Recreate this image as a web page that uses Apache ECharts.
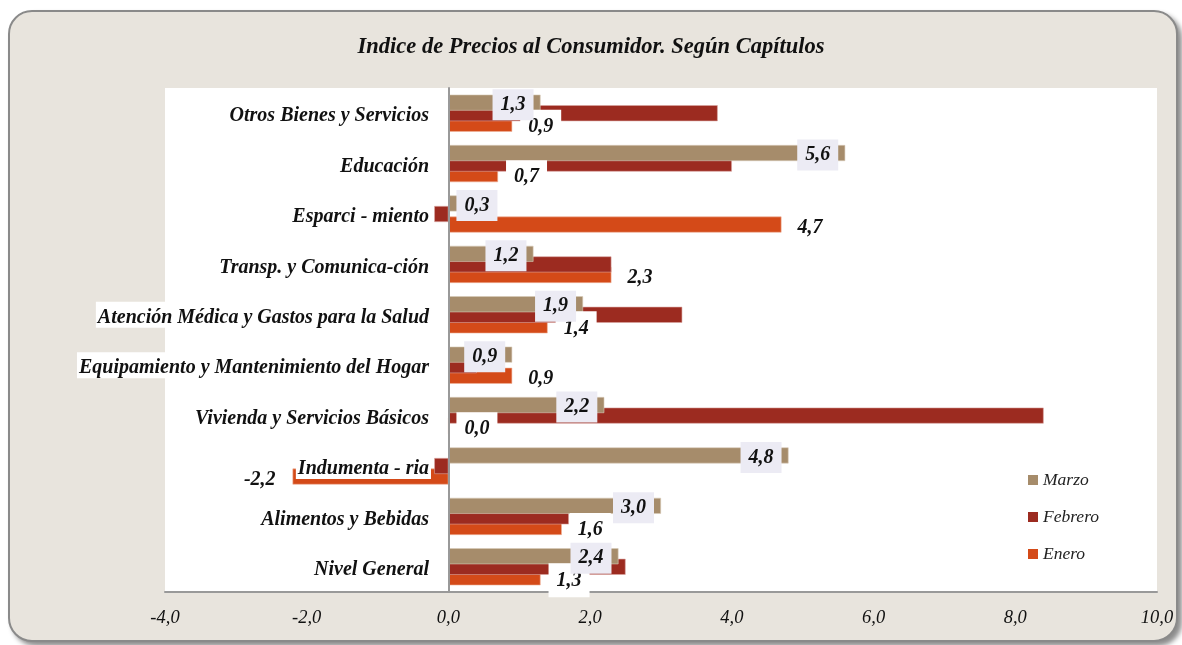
<!DOCTYPE html>
<html>
<head>
<meta charset="utf-8">
<script src="https://cdn.jsdelivr.net/npm/echarts@6/dist/echarts.min.js"></script>
<style>
  html, body { margin: 0; padding: 0; background: #fff; }
  #frame {
    position: absolute; left: 8px; top: 10px; width: 1166px; height: 628px;
    border: 2px solid #8a8a8a; border-radius: 24px; background: #E8E4DD;
    box-shadow: 4px 4px 5px rgba(0,0,0,0.45);
  }
  #chart { position: absolute; left: 0; top: 0; width: 1182px; height: 645px; }
</style>
</head>
<body>
<div id="frame"></div>
<div id="chart"></div>
<script>
// categorías, de abajo hacia arriba
const categories = [
    'Nivel General', 'Alimentos y Bebidas', 'Indumenta - ria',
    'Vivienda y Servicios Básicos', 'Equipamiento y Mantenimiento del Hogar',
    'Atención Médica y Gastos para la Salud', 'Transp. y Comunica-ción',
    'Esparci - miento', 'Educación', 'Otros Bienes y Servicios'
];
const marzo   = [2.4, 3.0, 4.8, 2.2, 0.9, 1.9, 1.2, 0.3, 5.6, 1.3];
const febrero = [2.5, 1.7, -0.2, 8.4, 0.4, 3.3, 2.3, -0.2, 4.0, 3.8];
const enero   = [1.3, 1.6, -2.2, 0.0, 0.9, 1.4, 2.3, 4.7, 0.7, 0.9];
const xTicks  = { min: -4, max: 10, interval: 2 };

const FONT = 'Liberation Serif';
const colors = { marzo: '#A68C6B', febrero: '#9C2B20', enero: '#D44A18' };

// formato con coma decimal
const fmt = v => Number(v).toFixed(1).replace('.', ',');

const labelBase = {
    show: true,
    fontFamily: FONT, fontSize: 20, fontWeight: 'bold', fontStyle: 'italic',
    color: '#111',
    formatter: p => fmt(p.value)
};

const marzoLabels = marzo.map(v => ({
    value: v,
    label: v < 0.6 ? { position: 'insideLeft', distance: 8 } : {}
}));
const eneroLabels = enero.map(v => ({
    value: v,
    label: v < 0 ? { position: 'left', distance: 9 } : {}
}));

const barWidth = 16;
const barGap = '-34%';

const chart = echarts.init(document.getElementById('chart'));
chart.setOption({
    animation: false,
    backgroundColor: 'transparent',
    title: {
        text: 'Indice de Precios al Consumidor. Según Capítulos',
        left: 'center', top: 31,
        textStyle: { fontFamily: FONT, fontSize: 22.5, fontWeight: 'bold', fontStyle: 'italic', color: '#111' }
    },
    legend: {
        orient: 'vertical', left: 1023, top: 466,
        itemWidth: 10, itemHeight: 10, itemGap: 19,
        icon: 'rect',
        itemStyle: { borderWidth: 0 },
        data: ['Marzo', 'Febrero', 'Enero'],
        textStyle: { fontFamily: FONT, fontSize: 17.5, fontStyle: 'italic', color: '#222' }
    },
    grid: {
        left: 165, right: 25, top: 88, bottom: 53,
        containLabel: false, outerBoundsMode: 'none',
        show: true, backgroundColor: '#fff', borderWidth: 0
    },
    xAxis: [{
        type: 'value', min: xTicks.min, max: xTicks.max, interval: xTicks.interval,
        axisLine: { show: true, lineStyle: { color: '#999', width: 2 } },
        axisTick: { show: false },
        splitLine: { show: false },
        axisLabel: {
            margin: 17, formatter: v => fmt(v),
            fontFamily: FONT, fontSize: 18.5, fontStyle: 'italic', color: '#111'
        }
    }, {
        type: 'value', min: xTicks.min, max: xTicks.max, show: false, splitLine: { show: false }
    }],
    yAxis: [{
        type: 'category', data: categories, z: 5,
        axisLine: { show: true, onZero: true, lineStyle: { color: '#999', width: 2 } },
        axisTick: { show: false },
        axisLabel: {
            // etiquetas junto a la línea del cero
            margin: -266, backgroundColor: '#fff', padding: [0, 2, 0, 2],
            formatter: v => '{c|' + v + '}',
            rich: {
                c: {
                    padding: [6, 0, 0, 0],
                    fontFamily: FONT, fontSize: 20, fontWeight: 'bold', fontStyle: 'italic', color: '#111'
                }
            }
        }
    }, {
        type: 'category', data: categories, show: false
    }],
    series: [
        // barras
        { name: 'Marzo', type: 'bar', data: marzo, barWidth, barGap, z: 4,
          itemStyle: { color: colors.marzo, borderColor: '#D9CBB8', borderWidth: 0.6 } },
        { name: 'Febrero', type: 'bar', data: febrero, barWidth, barGap, z: 3,
          itemStyle: { color: colors.febrero, borderColor: '#D9A59F', borderWidth: 0.6 } },
        { name: 'Enero', type: 'bar', data: enero, barWidth, barGap, z: 2,
          itemStyle: { color: colors.enero, borderColor: '#F0B49A', borderWidth: 0.6 } },
        // etiquetas sobre ejes ocultos con la misma disposición
        { type: 'bar', xAxisIndex: 1, yAxisIndex: 1, data: marzoLabels, barWidth, barGap, z: 11,
          itemStyle: { color: 'rgba(0,0,0,0)' }, silent: true,
          label: Object.assign({}, labelBase, {
              position: 'insideRight', distance: 7, offset: [0, 2],
              backgroundColor: '#ECEBF4', padding: [6, 8, 5, 8]
          }) },
        { type: 'bar', xAxisIndex: 1, yAxisIndex: 1, data: febrero, barWidth, barGap, z: 10,
          itemStyle: { color: 'rgba(0,0,0,0)' }, silent: true },
        { type: 'bar', xAxisIndex: 1, yAxisIndex: 1, data: eneroLabels, barWidth, barGap, z: 10,
          itemStyle: { color: 'rgba(0,0,0,0)' }, silent: true,
          label: Object.assign({}, labelBase, {
              position: 'right', distance: 8, offset: [0, 3],
              backgroundColor: '#fff', padding: [7, 8, 7, 8]
          }) }
    ]
});
</script>
</body>
</html>
